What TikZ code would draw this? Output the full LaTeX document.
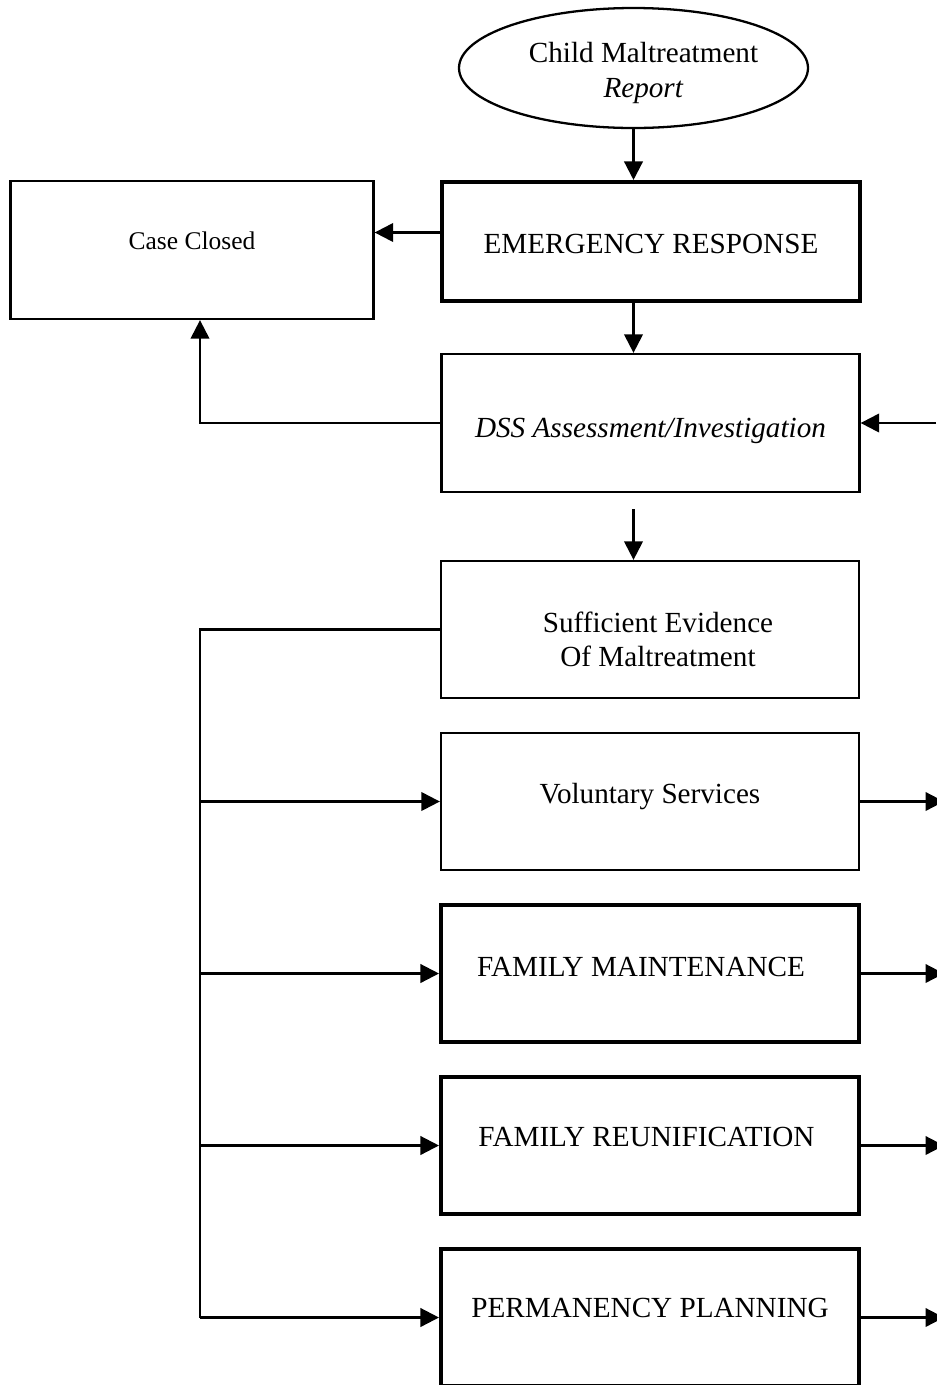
\documentclass[tikz,border=0pt]{standalone}
\usepackage{fontspec}
\setmainfont{Liberation Serif}
\usetikzlibrary{positioning}
\usetikzlibrary{shapes.geometric}
\usetikzlibrary{arrows.meta}
\tikzset{>={Triangle[length=3.7mm, width=3.7mm]}}
\tikzset{stage/.style={draw, rectangle, line width=1.3pt, minimum width=8.36cm, minimum height=2.74cm, inner sep=0pt}}
\tikzset{bold stage/.style={stage, line width=2.3pt}}
\tikzset{txt/.style={font=\fontsize{16.6}{19.6}\selectfont, align=center, inner sep=0pt}}
\tikzset{link/.style={line width=1.3pt}}

\begin{document}
\begin{tikzpicture}
\useasboundingbox (0,0) rectangle (18.72,-27.7);

\coordinate (trunk) at (4.0,0);
\coordinate (edge) at (18.72,0);
\coordinate (out) at (18.88,0);

\node[ellipse, draw, line width=1.3pt, minimum width=6.98cm, minimum height=2.4cm, inner sep=0pt,
  label={[txt, xshift=2mm, yshift=-1mm]center:Child Maltreatment\\\textit{Report}}] (report) at (12.67,-1.36) {};

\node[bold stage, minimum height=2.38cm,
  label={[txt, yshift=-0.5mm]center:EMERGENCY RESPONSE}] (emergency) at (13.02,-4.83) {};
\node[stage, minimum width=7.26cm, minimum height=2.76cm,
  label={[txt, font=\fontsize{14.5}{17}\selectfont, yshift=1.9mm]center:Case Closed}] (closed) at (3.84,-5.0) {};
\node[stage, minimum height=2.76cm,
  label={[txt, yshift=-1.5mm]center:\textit{DSS Assessment/Investigation}}] (dss) at (13.01,-8.46) {};

\begin{scope}[on grid]
\node[stage, label={[txt, xshift=1.6mm, yshift=-2mm]center:Sufficient Evidence\\Of Maltreatment}] (evidence) at (13.0,-12.59) {};
\node[stage, label={[txt, yshift=1mm]center:Voluntary Services}] (voluntary) [below = 3.44 of evidence] {};
\node[bold stage, label={[txt, xshift=-1.8mm, yshift=1.3mm]center:FAMILY MAINTENANCE}] (maintenance) [below = 3.44 of voluntary] {};
\node[bold stage, label={[txt, xshift=-0.7mm, yshift=1.7mm]center:FAMILY REUNIFICATION}] (reunification) [below = 3.44 of maintenance] {};
\node[bold stage, label={[txt, yshift=1.9mm]center:PERMANENCY PLANNING}] (permanency) [below = 3.44 of reunification] {};
\end{scope}

\draw[->, link] (report.south) -- (report.south |- emergency.north);
\draw[->, link] ([yshift=1.8mm]emergency.west) -- ([yshift=1.8mm]emergency.west -| closed.east);
\draw[->, link] (report.south |- emergency.south) -- (report.south |- dss.north);
\draw[->, link] (dss.west) -| ([xshift=1.6mm]closed.south);
\draw[->, link] (dss.east -| edge) -- (dss.east);
\draw[->, link, shorten <=3.2mm] (report.south |- dss.south) -- (report.south |- evidence.north);

\draw[link] (evidence.west) -| (permanency.west -| trunk);
\draw[->, link] (voluntary.west -| trunk) -- (voluntary.west);
\draw[->, link] (maintenance.west -| trunk) -- (maintenance.west);
\draw[->, link] (reunification.west -| trunk) -- (reunification.west);
\draw[->, link] (permanency.west -| trunk) -- (permanency.west);

\draw[->, link] (voluntary.east) -- (voluntary.east -| out);
\draw[->, link] (maintenance.east) -- (maintenance.east -| out);
\draw[->, link] (reunification.east) -- (reunification.east -| out);
\draw[->, link] (permanency.east) -- (permanency.east -| out);
\end{tikzpicture}
\end{document}
